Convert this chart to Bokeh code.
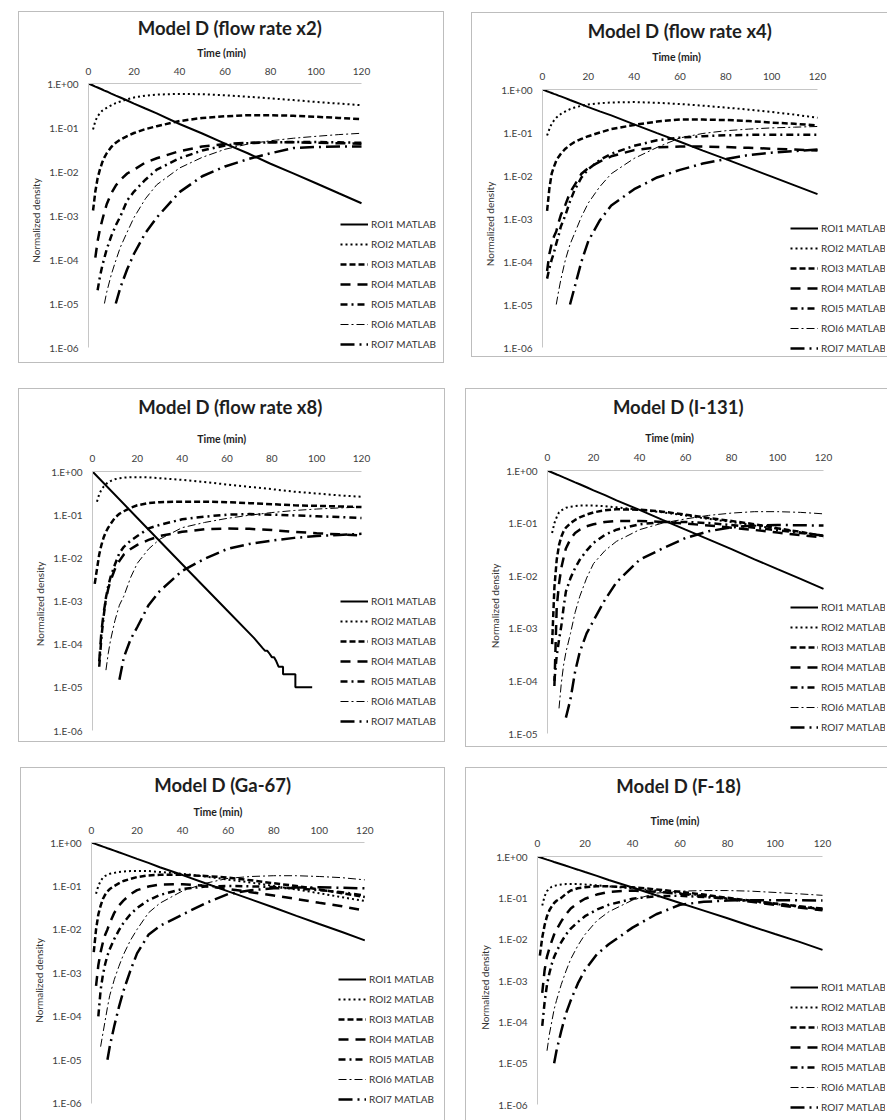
import numpy as np
from bokeh.plotting import figure
from bokeh.models import FixedTicker, CustomJSTickFormatter, Title, Div
from bokeh.embed import file_html
from bokeh.resources import INLINE

N = None
# common time grid (min)
T = [0, 1, 2, 3, 4, 5, 6, 7, 8, 10, 12, 14, 17, 20, 25, 30, 40, 50, 60, 70, 80, 90, 100, 110, 120]
X_TICKS = [0, 20, 40, 60, 80, 100, 120]
Y_TICKS = [1.0, 1e-1, 1e-2, 1e-3, 1e-4, 1e-5, 1e-6]
Y_TICK_LABELS = ["1.E+00", "1.E-01", "1.E-02", "1.E-03", "1.E-04", "1.E-05", "1.E-06"]
ROI_NAMES = ["ROI1 MATLAB", "ROI2 MATLAB", "ROI3 MATLAB", "ROI4 MATLAB",
             "ROI5 MATLAB", "ROI6 MATLAB", "ROI7 MATLAB"]
TITLES = ["Model D (flow rate x2)", "Model D (flow rate x4)", "Model D (flow rate x8)",
          "Model D (I-131)", "Model D (Ga-67)", "Model D (F-18)"]
X_LABEL = "Time (min)"
Y_LABEL = "Normalized density"

# ---- Model D (flow rate x2)
X2_ROI1 = [1.0, 0.95, 0.90, 0.85, 0.81, 0.77, 0.73, 0.69, 0.66, 0.59, 0.53, 0.48, 0.41, 0.35, 0.27, 0.21, 0.12, 0.073, 0.043, 0.026, 0.015, 0.0091, 0.0054, 0.0032, 0.0019]
X2_ROI2 = [N, N, 0.09, 0.14, 0.18, 0.21, 0.24, 0.26, 0.28, 0.32, 0.36, 0.39, 0.44, 0.48, 0.53, 0.56, 0.58, 0.57, 0.54, 0.50, 0.46, 0.42, 0.38, 0.35, 0.32]
X2_ROI3 = [N, N, 0.0013, 0.0035, 0.007, 0.011, 0.016, 0.021, 0.026, 0.036, 0.045, 0.053, 0.064, 0.075, 0.092, 0.107, 0.14, 0.165, 0.18, 0.19, 0.19, 0.185, 0.175, 0.165, 0.155]
X2_ROI4 = [N, N, N, 1.1e-4, 2.6e-4, 4.8e-4, 7.7e-4, 1.2e-3, 1.8e-3, 3.2e-3, 4.8e-3, 6.4e-3, 9e-3, 0.011, 0.016, 0.02, 0.029, 0.037, 0.042, 0.045, 0.046, 0.046, 0.045, 0.044, 0.043]
X2_ROI5 = [N, N, N, N, 2e-5, 4e-5, 7e-5, 1.1e-4, 1.7e-4, 3.4e-4, 6e-4, 9.5e-4, 2.2e-3, 3.5e-3, 6.5e-3, 0.011, 0.02, 0.03, 0.039, 0.044, 0.046, 0.047, 0.047, 0.046, 0.045]
X2_ROI6 = [N, N, N, N, N, N, N, 1e-5, 1.8e-5, 4.5e-5, 9.5e-5, 1.9e-4, 4.2e-4, 9e-4, 2.4e-3, 5e-3, 0.012, 0.021, 0.032, 0.042, 0.05, 0.057, 0.063, 0.069, 0.074]
X2_ROI7 = [N, N, N, N, N, N, N, N, N, N, 1e-5, 2.3e-5, 6e-5, 1.35e-4, 4e-4, 9e-4, 3.4e-3, 7.8e-3, 0.013, 0.019, 0.026, 0.034, 0.036, 0.037, 0.037]

# ---- Model D (flow rate x4)
X4_ROI1 = [1.0, 0.955, 0.91, 0.87, 0.83, 0.79, 0.76, 0.72, 0.69, 0.63, 0.57, 0.52, 0.45, 0.39, 0.31, 0.25, 0.155, 0.097, 0.061, 0.038, 0.024, 0.015, 0.0094, 0.0059, 0.0037]
X4_ROI2 = [N, N, 0.085, 0.12, 0.16, 0.19, 0.22, 0.245, 0.27, 0.31, 0.35, 0.38, 0.42, 0.45, 0.48, 0.50, 0.51, 0.49, 0.46, 0.42, 0.38, 0.34, 0.30, 0.26, 0.22]
X4_ROI3 = [N, N, 0.0015, 0.005, 0.011, 0.016, 0.022, 0.027, 0.032, 0.042, 0.051, 0.06, 0.071, 0.082, 0.10, 0.12, 0.15, 0.18, 0.20, 0.20, 0.195, 0.185, 0.17, 0.16, 0.145]
X4_ROI4 = [N, N, 6e-5, 1.5e-4, 2.6e-4, 3.8e-4, 5e-4, 8e-4, 1.2e-3, 2.1e-3, 4e-3, 6e-3, 0.011, 0.015, 0.021, 0.028, 0.039, 0.045, 0.047, 0.047, 0.046, 0.044, 0.042, 0.040, 0.038]
X4_ROI5 = [N, N, 4e-5, 7e-5, 1.1e-4, 1.6e-4, 2.6e-4, 4e-4, 6.5e-4, 1.2e-3, 2.5e-3, 4.6e-3, 9e-3, 0.014, 0.023, 0.032, 0.049, 0.066, 0.076, 0.082, 0.086, 0.088, 0.089, 0.089, 0.089]
X4_ROI6 = [N, N, N, N, N, N, 1e-5, 2e-5, 3.8e-5, 1.1e-4, 2.5e-4, 4.5e-4, 1.1e-3, 2.3e-3, 5.5e-3, 0.011, 0.025, 0.045, 0.075, 0.095, 0.11, 0.12, 0.128, 0.133, 0.138]
X4_ROI7 = [N, N, N, N, N, N, N, N, N, N, 1e-5, 2.5e-5, 1e-4, 3e-4, 9e-4, 2e-3, 4.8e-3, 9e-3, 0.0135, 0.019, 0.024, 0.03, 0.034, 0.037, 0.04]

# ---- Model D (flow rate x8)
X8_ROI1_T = [0, 20, 40, 60, 72, 76, 77, 78, 79, 80, 81, 82, 83, 84, 85, 85, 90.5, 90.5, 98]
X8_ROI1 = [1.0, 0.084, 7.1e-3, 6.1e-4, 1.4e-4, 8e-5, 7e-5, 7e-5, 6e-5, 5e-5, 5e-5, 4e-5, 3e-5, 3e-5, 3e-5, 2e-5, 2e-5, 1e-5, 1e-5]
X8_ROI2 = [N, N, 0.2, 0.3, 0.38, 0.45, 0.51, 0.56, 0.6, 0.66, 0.7, 0.72, 0.74, 0.74, 0.73, 0.7, 0.64, 0.57, 0.5, 0.44, 0.39, 0.34, 0.31, 0.28, 0.26]
X8_ROI3 = [N, 2.5e-3, 5.5e-3, 0.012, 0.02, 0.03, 0.04, 0.05, 0.06, 0.085, 0.105, 0.12, 0.145, 0.165, 0.185, 0.195, 0.2, 0.2, 0.195, 0.185, 0.175, 0.165, 0.16, 0.155, 0.15]
X8_ROI4 = [N, N, N, 4e-5, 2e-4, 5.5e-4, 1.1e-3, 1.9e-3, 2.9e-3, 5.5e-3, 8.5e-3, 0.012, 0.016, 0.02, 0.026, 0.032, 0.04, 0.046, 0.048, 0.047, 0.044, 0.04, 0.037, 0.035, 0.033]
X8_ROI5 = [N, N, N, 3e-5, 1.5e-4, 4.5e-4, 1.2e-3, 2.2e-3, 3.5e-3, 7e-3, 0.013, 0.018, 0.025, 0.032, 0.048, 0.058, 0.078, 0.09, 0.1, 0.103, 0.1, 0.096, 0.092, 0.088, 0.084]
X8_ROI6 = [N, N, N, N, N, N, 2.5e-5, 6e-5, 1.2e-4, 3.5e-4, 8e-4, 1.3e-3, 3.5e-3, 7.5e-3, 0.016, 0.027, 0.05, 0.066, 0.082, 0.097, 0.112, 0.125, 0.135, 0.143, 0.15]
X8_ROI7 = [N, N, N, N, N, N, N, N, N, N, 1.5e-5, 5e-5, 1.3e-4, 2.5e-4, 8e-4, 1.7e-3, 5e-3, 9.5e-3, 0.016, 0.021, 0.025, 0.029, 0.032, 0.034, 0.036]

# ---- Model D (I-131)
I131_ROI1 = [1.0, 0.957, 0.917, 0.878, 0.841, 0.806, 0.772, 0.739, 0.708, 0.65, 0.596, 0.547, 0.48, 0.42, 0.34, 0.27, 0.178, 0.115, 0.075, 0.049, 0.032, 0.0205, 0.0133, 0.0087, 0.0056]
I131_ROI2 = [N, N, 0.065, 0.1, 0.13, 0.16, 0.175, 0.185, 0.195, 0.205, 0.21, 0.215, 0.215, 0.215, 0.21, 0.2, 0.18, 0.16, 0.14, 0.12, 0.105, 0.09, 0.078, 0.067, 0.058]
I131_ROI3 = [N, N, 5e-4, 6e-3, 0.02, 0.038, 0.055, 0.07, 0.082, 0.1, 0.115, 0.128, 0.145, 0.16, 0.175, 0.183, 0.18, 0.165, 0.145, 0.125, 0.11, 0.095, 0.08, 0.068, 0.057]
I131_ROI4 = [N, N, N, 8e-5, 2.5e-3, 7e-3, 0.014, 0.022, 0.033, 0.05, 0.065, 0.075, 0.087, 0.095, 0.105, 0.11, 0.11, 0.105, 0.098, 0.09, 0.082, 0.074, 0.066, 0.059, 0.053]
I131_ROI5 = [N, N, N, 1e-4, 3e-4, 6e-4, 1.1e-3, 2.5e-3, 5e-3, 9e-3, 0.014, 0.02, 0.03, 0.042, 0.06, 0.075, 0.095, 0.105, 0.105, 0.1, 0.092, 0.082, 0.073, 0.065, 0.058]
I131_ROI6 = [N, N, N, N, N, 3e-5, 9e-5, 2e-4, 3.5e-4, 8e-4, 2e-3, 4e-3, 9e-3, 0.017, 0.03, 0.045, 0.075, 0.1, 0.12, 0.14, 0.155, 0.165, 0.165, 0.16, 0.15]
I131_ROI7 = [N, N, N, N, N, N, N, N, 2e-5, 4.5e-5, 1.5e-4, 3.5e-4, 8e-4, 1.4e-3, 3.5e-3, 7.5e-3, 0.02, 0.033, 0.052, 0.07, 0.083, 0.09, 0.092, 0.091, 0.09]

# ---- Model D (Ga-67)
GA67_ROI1 = [1.0, 0.957, 0.917, 0.878, 0.841, 0.806, 0.772, 0.739, 0.708, 0.65, 0.596, 0.547, 0.48, 0.42, 0.34, 0.27, 0.178, 0.115, 0.075, 0.049, 0.032, 0.0205, 0.0133, 0.0087, 0.0056]
GA67_ROI2 = [N, N, 0.066, 0.1, 0.13, 0.155, 0.17, 0.18, 0.19, 0.2, 0.21, 0.215, 0.22, 0.22, 0.22, 0.21, 0.19, 0.165, 0.14, 0.12, 0.1, 0.083, 0.068, 0.055, 0.045]
GA67_ROI3 = [N, 3e-3, 0.01, 0.022, 0.035, 0.05, 0.063, 0.075, 0.085, 0.1, 0.115, 0.13, 0.145, 0.16, 0.175, 0.18, 0.18, 0.17, 0.155, 0.135, 0.115, 0.1, 0.083, 0.068, 0.056]
GA67_ROI4 = [N, N, 5e-4, 1.5e-3, 3e-3, 5e-3, 7.5e-3, 0.01, 0.014, 0.024, 0.035, 0.046, 0.064, 0.08, 0.097, 0.108, 0.11, 0.1, 0.085, 0.072, 0.06, 0.05, 0.041, 0.034, 0.027]
GA67_ROI5 = [N, N, N, 1e-4, 4e-4, 9e-4, 1.6e-3, 2.5e-3, 3.5e-3, 6e-3, 9.5e-3, 0.014, 0.022, 0.031, 0.047, 0.062, 0.085, 0.097, 0.1, 0.098, 0.094, 0.088, 0.08, 0.072, 0.06]
GA67_ROI6 = [N, N, N, N, 2e-5, 4e-5, 8e-5, 1.6e-4, 3e-4, 7e-4, 1.4e-3, 2.6e-3, 5.5e-3, 0.01, 0.024, 0.04, 0.077, 0.115, 0.15, 0.165, 0.172, 0.172, 0.165, 0.155, 0.138]
GA67_ROI7 = [N, N, N, N, N, N, N, 1e-5, 2e-5, 6e-5, 1.6e-4, 3.8e-4, 1.1e-3, 2.8e-3, 7.5e-3, 0.012, 0.022, 0.04, 0.065, 0.08, 0.088, 0.092, 0.093, 0.091, 0.088]

# ---- Model D (F-18)
F18_ROI1 = [1.0, 0.957, 0.917, 0.878, 0.841, 0.806, 0.772, 0.739, 0.708, 0.65, 0.596, 0.547, 0.48, 0.42, 0.34, 0.27, 0.178, 0.115, 0.075, 0.049, 0.032, 0.0205, 0.0133, 0.0087, 0.0055]
F18_ROI2 = [N, N, 0.065, 0.11, 0.145, 0.17, 0.185, 0.195, 0.2, 0.21, 0.215, 0.215, 0.215, 0.21, 0.2, 0.19, 0.17, 0.15, 0.13, 0.113, 0.097, 0.083, 0.071, 0.061, 0.052]
F18_ROI3 = [N, 4e-3, 0.011, 0.022, 0.036, 0.05, 0.062, 0.075, 0.085, 0.1, 0.125, 0.15, 0.17, 0.18, 0.19, 0.19, 0.18, 0.16, 0.14, 0.12, 0.1, 0.085, 0.073, 0.062, 0.053]
F18_ROI4 = [N, N, 5e-4, 1.8e-3, 3.8e-3, 6e-3, 9e-3, 0.013, 0.017, 0.027, 0.04, 0.055, 0.075, 0.095, 0.12, 0.14, 0.15, 0.14, 0.125, 0.11, 0.095, 0.08, 0.068, 0.058, 0.05]
F18_ROI5 = [N, N, 8e-5, 3e-4, 8e-4, 1.5e-3, 2.5e-3, 3.7e-3, 5e-3, 8.5e-3, 0.013, 0.018, 0.026, 0.036, 0.052, 0.068, 0.095, 0.11, 0.112, 0.105, 0.095, 0.083, 0.072, 0.062, 0.055]
F18_ROI6 = [N, N, N, N, 2e-5, 5e-5, 1e-4, 2e-4, 3.3e-4, 8e-4, 1.7e-3, 3.3e-3, 7e-3, 0.013, 0.028, 0.046, 0.088, 0.13, 0.145, 0.15, 0.15, 0.145, 0.135, 0.125, 0.115]
F18_ROI7 = [N, N, N, N, N, N, N, 1e-5, 2e-5, 6e-5, 1.6e-4, 3.3e-4, 8.5e-4, 1.8e-3, 4.3e-3, 7.5e-3, 0.019, 0.04, 0.068, 0.08, 0.086, 0.088, 0.088, 0.087, 0.086]

# line styles per ROI (width, dash)
STYLES = [(2.0, "solid"), (2.0, "2 3"), (2.5, "6 3"), (2.5, "10 7"),
          (2.5, "7 4 2 4"), (1.0, "8 3 2 3"), (2.5, "14 5 2 5")]

FONT = "Lato"

# page layout (pixels): canvas left, top, width, height,
# pixel of x=0, x=120, top decade, bottom decade,
# legend glyph left, legend bottom, title centre, x-label centre,
# tick standoff, x-label standoff, title standoff
GEOM = [
    (13, 0, 426, 358, 88, 361, 83, 347, 340, 354, 229.7, 221.7, 3, 12, 0),
    (466, 0, 420, 359, 542, 817, 89, 347, 790, 358, 679.3, 676.7, 4, 13, 2),
    (13, 363, 427, 374, 92, 361, 471, 730, 340, 731, 229.7, 221.8, 4, 14, 11),
    (460, 363, 426, 379, 547, 823, 470, 733, 790, 736.7, 678.2, 669.7, 4, 13, 12),
    (15, 742, 425, 377, 91, 364.3, 842, 1102.7, 338, 1108.7, 228.3, 218.0, 3, 12, 3),
    (460, 742, 426, 377, 537, 822, 856, 1104, 790, 1116.7, 677.5, 675.0, 4, 19, 13),
]
TITLE_W = [185, 184, 184, 131.6, 149, 123.3]   # approx. rendered title widths
XLABEL_W = 50
# chart-area border boxes: left, top, width, height, right edge shown, bottom edge shown
BORDERS = [
    (13, 6, 426, 352, True, True),
    (466, 7, 421, 345, False, True),
    (13, 383, 427, 354, True, True),
    (460, 383, 427, 359, False, True),
    (15, 762, 425, 358, True, False),
    (460, 762, 427, 358, False, False),
]


def make_panel(title, curves, n_dec, geom, title_w):
    (cl, ct, w, h, x0, x120, yt, yb, lgx, lgb, tc, xc, tso, xlso, tiso) = geom
    left = int(round(x0 - cl))
    top = int(round(yt - ct))
    fr_right = cl + w - 1
    fr_bottom = ct + h - 1
    x_end = 120.0 * (fr_right - x0) / (x120 - x0)
    ppd = (yb - yt) / n_dec
    y_lo = 10 ** (-n_dec - (fr_bottom - yb) / ppd)

    p = figure(width=w, height=h, x_range=(0, x_end), y_range=(y_lo, 1.0),
               y_axis_type="log", x_axis_location="above", output_backend="svg",
               toolbar_location=None, min_border_left=left, min_border_right=1,
               min_border_top=top, min_border_bottom=1, title=title,
               styles={"position": "absolute", "left": f"{cl}px", "top": f"{ct}px"})
    p.title.text_font = FONT
    p.title.text_font_size = "18.5px"
    p.title.text_font_style = "bold"
    p.title.text_color = "#1e1e1e"
    p.title.align = "left"
    p.title.offset = tc - title_w / 2 - x0
    p.title.standoff = tiso
    p.grid.visible = False
    p.outline_line_color = None

    xa = p.xaxis[0]
    xa.ticker = FixedTicker(ticks=X_TICKS)
    xa.bounds = (0, 120)
    xa.major_label_standoff = tso

    xt = Title(text=X_LABEL, align="left", offset=xc - XLABEL_W / 2 - x0,
               standoff=xlso, text_font=FONT, text_font_size="10.5px",
               text_font_style="bold", text_color="#1e1e1e")
    p.add_layout(xt, "above")

    ya = p.yaxis[0]
    ya.ticker = FixedTicker(ticks=Y_TICKS[:n_dec + 1])
    ya.bounds = (Y_TICKS[n_dec], 1.0)
    ya.formatter = CustomJSTickFormatter(args=dict(labels=Y_TICK_LABELS),
                                         code="return labels[Math.round(-Math.log10(tick))];")
    ya.axis_label = Y_LABEL
    ya.axis_label_text_font = FONT
    ya.axis_label_text_font_size = "10px"
    ya.axis_label_text_font_style = "normal"
    ya.axis_label_text_color = "#333333"
    ya.axis_label_standoff = 2
    ya.major_label_standoff = 10
    ya.major_tick_out = 0
    ya.major_tick_in = 0

    for ax in (xa, ya):
        ax.axis_line_color = "#c6c6c6"
        ax.axis_line_width = 1
        ax.major_tick_line_color = None
        ax.minor_tick_line_color = None
        ax.major_label_text_font = FONT
        ax.major_label_text_font_size = "10px"
        ax.major_label_text_color = "#404040"

    for i, (tt, vv) in enumerate(curves):
        lw, dash = STYLES[i]
        p.line(np.array(tt, dtype=float), np.array(vv, dtype=float),
               line_color="#000000", line_width=lw, line_dash=dash,
               legend_label=ROI_NAMES[i])

    lg = p.legend[0]
    lg.location = (lgx - x0, fr_bottom - lgb)
    lg.glyph_width = 28
    lg.glyph_height = 20
    lg.label_height = 20
    lg.spacing = 0
    lg.padding = 0
    lg.margin = 0
    lg.label_standoff = 3
    lg.border_line_color = None
    lg.background_fill_alpha = 0
    lg.label_text_font = FONT
    lg.label_text_font_size = "10px"
    lg.label_text_color = "#333333"
    return p


def make_border(bx, by, bw, bh, show_right, show_bottom):
    st = {"position": "absolute", "left": f"{bx}px", "top": f"{by}px",
          "box-sizing": "border-box", "border": "1px solid #bdbdbd"}
    if not show_right:
        st["border-right"] = "none"
    if not show_bottom:
        st["border-bottom"] = "none"
    return Div(text="", width=bw, height=bh, styles=st)


def on_grid(*rois):
    return [(T, v) for v in rois]


CURVES = [
    on_grid(X2_ROI1, X2_ROI2, X2_ROI3, X2_ROI4, X2_ROI5, X2_ROI6, X2_ROI7),
    on_grid(X4_ROI1, X4_ROI2, X4_ROI3, X4_ROI4, X4_ROI5, X4_ROI6, X4_ROI7),
    [(X8_ROI1_T, X8_ROI1)] + on_grid(X8_ROI2, X8_ROI3, X8_ROI4, X8_ROI5, X8_ROI6, X8_ROI7),
    on_grid(I131_ROI1, I131_ROI2, I131_ROI3, I131_ROI4, I131_ROI5, I131_ROI6, I131_ROI7),
    on_grid(GA67_ROI1, GA67_ROI2, GA67_ROI3, GA67_ROI4, GA67_ROI5, GA67_ROI6, GA67_ROI7),
    on_grid(F18_ROI1, F18_ROI2, F18_ROI3, F18_ROI4, F18_ROI5, F18_ROI6, F18_ROI7),
]
N_DEC = [6, 6, 6, 5, 6, 6]

figs = [make_panel(TITLES[k], CURVES[k], N_DEC[k], GEOM[k], TITLE_W[k]) for k in range(6)]
boxes = [make_border(*b) for b in BORDERS]

open("out.html", "w").write(file_html(figs + boxes, INLINE))
